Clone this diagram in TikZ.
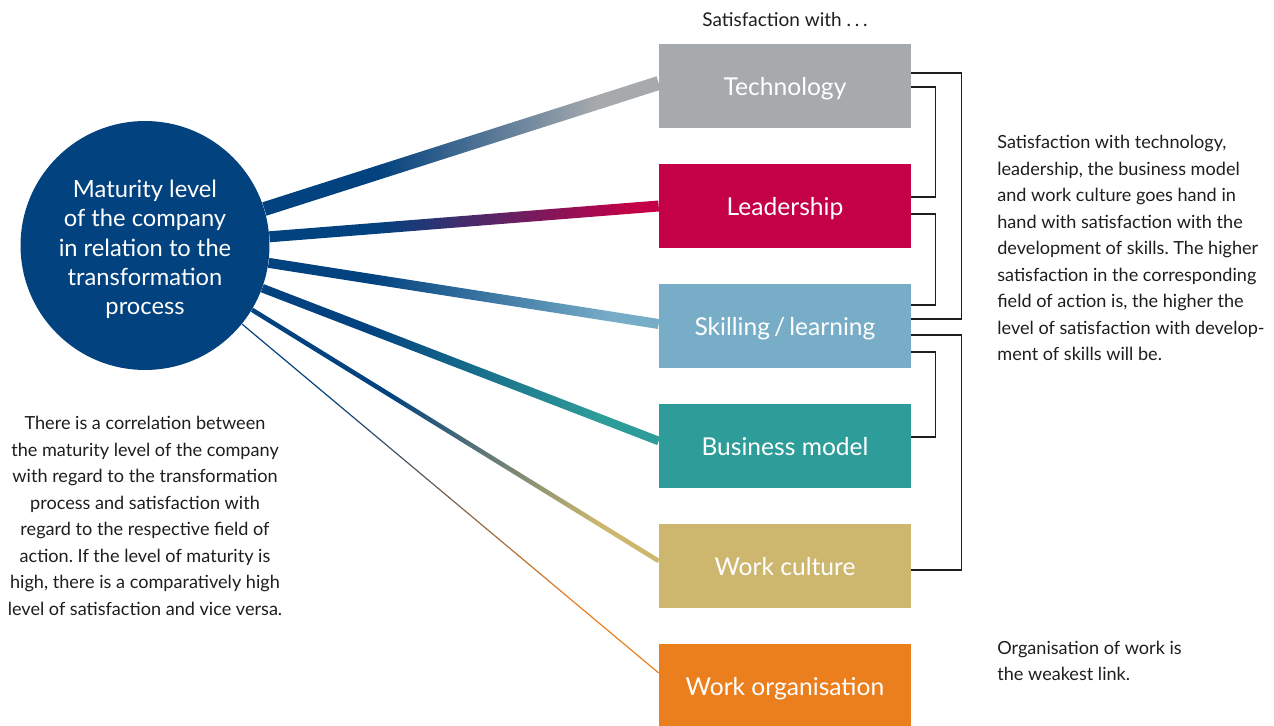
\documentclass[tikz,border=0pt]{standalone}
\usepackage{fontspec}
\setmainfont{Lato}
\frenchspacing
\usetikzlibrary{calc,positioning,backgrounds}

\definecolor{navy}{HTML}{02427F}
\definecolor{techgrey}{HTML}{A7AAAD}
\definecolor{crimson}{HTML}{C40047}
\definecolor{skillblue}{HTML}{78ADC8}
\definecolor{teal}{HTML}{2E9C98}
\definecolor{gold}{HTML}{CDB76E}
\definecolor{orange}{HTML}{EB7F1E}
\definecolor{ink}{HTML}{1E1E1E}

\pgfdeclarehorizontalshading{techshade}{100bp}{color(0bp)=(navy); color(39.5bp)=(navy); color(67bp)=(techgrey); color(100bp)=(techgrey)}
\pgfdeclarehorizontalshading{leadshade}{100bp}{color(0bp)=(navy); color(39bp)=(navy); color(71.5bp)=(crimson); color(100bp)=(crimson)}
\pgfdeclarehorizontalshading{skillshade}{100bp}{color(0bp)=(navy); color(38bp)=(navy); color(69bp)=(skillblue); color(100bp)=(skillblue)}
\pgfdeclarehorizontalshading{businessshade}{100bp}{color(0bp)=(navy); color(38bp)=(navy); color(67bp)=(teal); color(100bp)=(teal)}
\pgfdeclarehorizontalshading{cultureshade}{100bp}{color(0bp)=(navy); color(42bp)=(navy); color(67.5bp)=(gold); color(100bp)=(gold)}
\pgfdeclarehorizontalshading{orgshade}{100bp}{color(0bp)=(navy); color(35bp)=(navy); color(65bp)=(orange); color(100bp)=(orange)}

% band from #1 to #2, half width #3, shading #4
\newcommand\band[4]{\shade[shading=#4] ($(#1)!#3!90:(#2)$) -- ($(#1)!#3!-90:(#2)$) -- ($(#2)!#3!90:(#1)$) -- ($(#2)!#3!-90:(#1)$) -- cycle;}

\begin{document}
\begin{tikzpicture}[x=0.02cm,y=-0.02cm,
    fieldbox/.style={fill=#1, text=white, minimum width=5.04cm, minimum height=1.68cm, inner sep=0pt, text height=11.3pt, text depth=0pt, font=\fontsize{14}{16}\selectfont},
    bracket/.style={draw=ink, line width=0.75pt},
    note/.style={text=ink, inner sep=0pt, font=\fontsize{10.3}{15.1}\selectfont}]
    \useasboundingbox (0,0) rectangle (1274,726);

    \node[circle, fill=navy, text=white, minimum size=4.98cm, inner sep=0pt, align=center, font=\fontsize{13.5}{16.7}\selectfont] (maturity) at (145,245.5)
        {\rule{0pt}{14.5pt}Maturity level\\of the company\\in relation to the\\transformation\\process};

    \node[fieldbox=techgrey]  (tech)     at (785,86)  {Technology};
    \node[fieldbox=crimson]   (lead)     at (785,206) {Leadership};
    \node[fieldbox=skillblue] (skill)    at (785,326) {Skilling\,/\,learning};
    \node[fieldbox=teal]      (business) at (785,446) {Business model};
    \node[fieldbox=gold]      (culture)  at (785,566) {Work culture};
    \node[fieldbox=orange]    (workorg)  at (785,686) {Work organisation};

    \node[note, font=\fontsize{10.8}{15}\selectfont] (title) at (785,20) {Satisfaction with .\hspace{0.2em}.\hspace{0.2em}.};

    \begin{scope}[on background layer]
        \band{maturity.17.5}{$(tech.west)+(0,-3)$}{0.14cm}{techshade}
        \band{maturity.4.5}{lead.west}{0.11cm}{leadshade}
        \band{maturity.-8.7}{$(skill.west)+(0,-2)$}{0.1cm}{skillshade}
        \band{maturity.-20.8}{$(business.west)+(0,-5)$}{0.086cm}{businessshade}
        \band{maturity.-31.5}{$(culture.west)+(0,-5)$}{0.046cm}{cultureshade}
        \band{maturity.-39.7}{$(workorg.west)+(0,-13)$}{0.012cm}{orgshade}
    \end{scope}

    \draw[bracket] ($(tech.east)+(0,-13)$) -- ++(50,0) |- ($(skill.east)+(0,-7)$);
    \draw[bracket] ($(tech.east)+(0,1)$) -- ++(24,0) |- ($(lead.east)+(0,-9)$);
    \draw[bracket] ($(lead.east)+(0,8)$) -- ++(24,0) |- ($(skill.east)+(0,-21)$);
    \draw[bracket] ($(skill.east)+(0,9)$) -- ++(50,0) |- ($(culture.east)+(0,4)$);
    \draw[bracket] ($(skill.east)+(0,26)$) -- ++(24,0) |- ($(business.east)+(0,-9)$);

    \node[note, align=left, anchor=west] (linknote) at (997,248)
        {Satisfaction with technology,\\leadership, the business model\\and work culture goes hand in\\hand with satisfaction with the\\development of skills. The higher\\satisfaction in the corresponding\\field of action is, the higher the\\level of satisfaction with develop-\\ment of skills will be.};
    \node[note, align=left, anchor=west] (weaknote) at (997,661)
        {Organisation of work is\\the weakest link.};
    \node[note, align=center] (corrnote) at (145,516)
        {There is a correlation between\\the maturity level of the company\\with regard to the transformation\\process and satisfaction with\\regard to the respective field of\\action. If the level of maturity is\\high, there is a comparatively high\\level of satisfaction and vice versa.};
\end{tikzpicture}
\end{document}
